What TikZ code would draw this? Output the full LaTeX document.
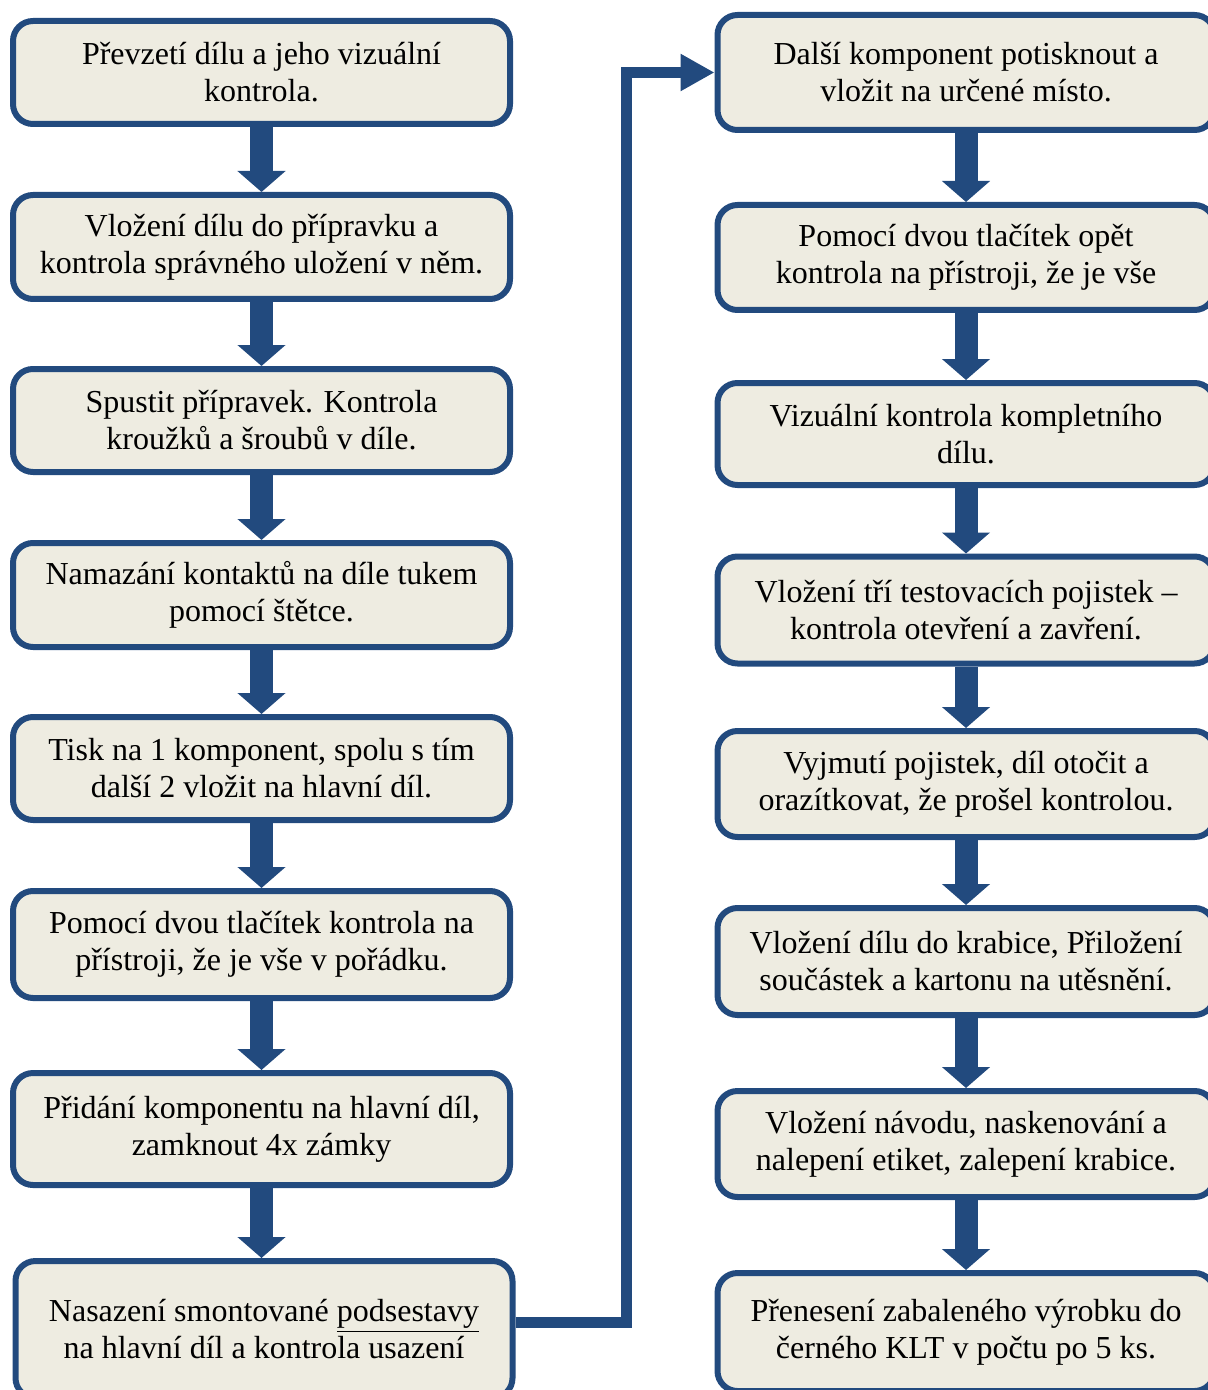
\documentclass[tikz,border=0pt]{standalone}
\usepackage{fontspec}
\setmainfont{Liberation Serif}
\usetikzlibrary{arrows.meta}
\definecolor{boxblue}{RGB}{34,74,126}
\definecolor{boxfill}{RGB}{238,236,225}
\tikzset{
    mybox/.style = {rectangle, rounded corners=10pt, line width=3pt, draw=boxblue, fill=boxfill, align=center, minimum width=248.5pt, inner sep=0pt, font=\fontsize{16}{18.5}\selectfont, text=black},
    myarrow/.style = {-{Triangle[width=23.5pt,length=10.5pt]}, line width=11.5pt, boxblue}, % down
    myline/.style = {-{Triangle[width=17.5pt,length=17pt]}, line width=5.5pt, boxblue, line join=miter}, % across
}
\begin{document}
\begin{tikzpicture}[x=0.5pt, y=-0.5pt]
  \useasboundingbox (0,0) rectangle (1208,1390);
  \clip (0,0) rectangle (1208,1390);
  % left column
  \node[mybox, minimum height=51.5pt] (l1) at (261.5,72.5) {Převzetí dílu a jeho vizuální\\kontrola.};
  \node[mybox, minimum height=52pt] (l2) at (261.5,247) {Vložení dílu do přípravku a\\kontrola správného uložení v něm.};
  \node[mybox, minimum height=51.5pt] (l3) at (261.5,420.5) {Spustit přípravek. Kontrola\\kroužků a šroubů v díle.};
  \node[mybox, minimum height=52pt] (l4) at (261.5,595) {Namazání kontaktů na díle tukem\\pomocí štětce.};
  \node[mybox, minimum height=51.5pt] (l5) at (261.5,768.5) {Tisk na 1 komponent, spolu s tím\\další 2 vložit na hlavní díl.};
  \node[mybox, minimum height=53.5pt] (l6) at (261.5,944.5) {Pomocí dvou tlačítek kontrola na\\přístroji, že je vše v pořádku.};
  \node[mybox, minimum height=56pt] (l7) at (261.5,1129) {Přidání komponentu na hlavní díl,\\zamknout 4x zámky};
  \node[mybox, minimum height=68.5pt] (l8) at (264,1329.5) {Nasazení smontované \underline{podsestavy}\\na hlavní díl a kontrola usazení};
  % right column
  \node[mybox, minimum height=57.5pt] (r1) at (966,72.5) {Další komponent potisknout a\\vložit na určené místo.};
  \node[mybox, minimum height=52.5pt] (r2) at (966,257.5) {Pomocí dvou tlačítek opět\\kontrola na přístroji, že je vše};
  \node[mybox, minimum height=51pt] (r3) at (966,434) {Vizuální kontrola kompletního\\dílu.};
  \node[mybox, minimum height=53.5pt] (r4) at (966,610) {Vložení tří testovacích pojistek –\\kontrola otevření a zavření.};
  \node[mybox, minimum height=53pt] (r5) at (966,784) {Vyjmutí pojistek, díl otočit a\\orazítkovat, že prošel kontrolou.};
  \node[mybox, minimum height=53.5pt] (r6) at (966,961.5) {Vložení dílu do krabice, Přiložení\\součástek a kartonu na utěsnění.};
  \node[mybox, minimum height=53pt] (r7) at (966,1144) {Vložení návodu, naskenování a\\nalepení etiket, zalepení krabice.};
  \node[mybox, minimum height=59pt] (r8) at (966,1332) {Přenesení zabaleného výrobku do\\černého KLT v počtu po 5 ks.};
  % arrows
  \draw[myarrow] (l1.south) -- (l2.north);
  \draw[myarrow] (l2.south) -- (l3.north);
  \draw[myarrow] (l3.south) -- (l4.north);
  \draw[myarrow] (l4.south) -- (l5.north);
  \draw[myarrow] (l5.south) -- (l6.north);
  \draw[myarrow] (l6.south) -- (l7.north);
  \draw[myarrow] (l7.south) -- (l7.south |- l8.north);
  \draw[myarrow] (r1.south) -- (r2.north);
  \draw[myarrow] (r2.south) -- (r3.north);
  \draw[myarrow] (r3.south) -- (r4.north);
  \draw[myarrow] (r4.south) -- (r5.north);
  \draw[myarrow] (r5.south) -- (r6.north);
  \draw[myarrow] (r6.south) -- (r7.north);
  \draw[myarrow] (r7.south) -- (r8.north);
  \coordinate (bend) at (626,1322);
  \draw[myline] (l8.east |- bend) -- (bend) |- (r1.west);
\end{tikzpicture}
\end{document}
